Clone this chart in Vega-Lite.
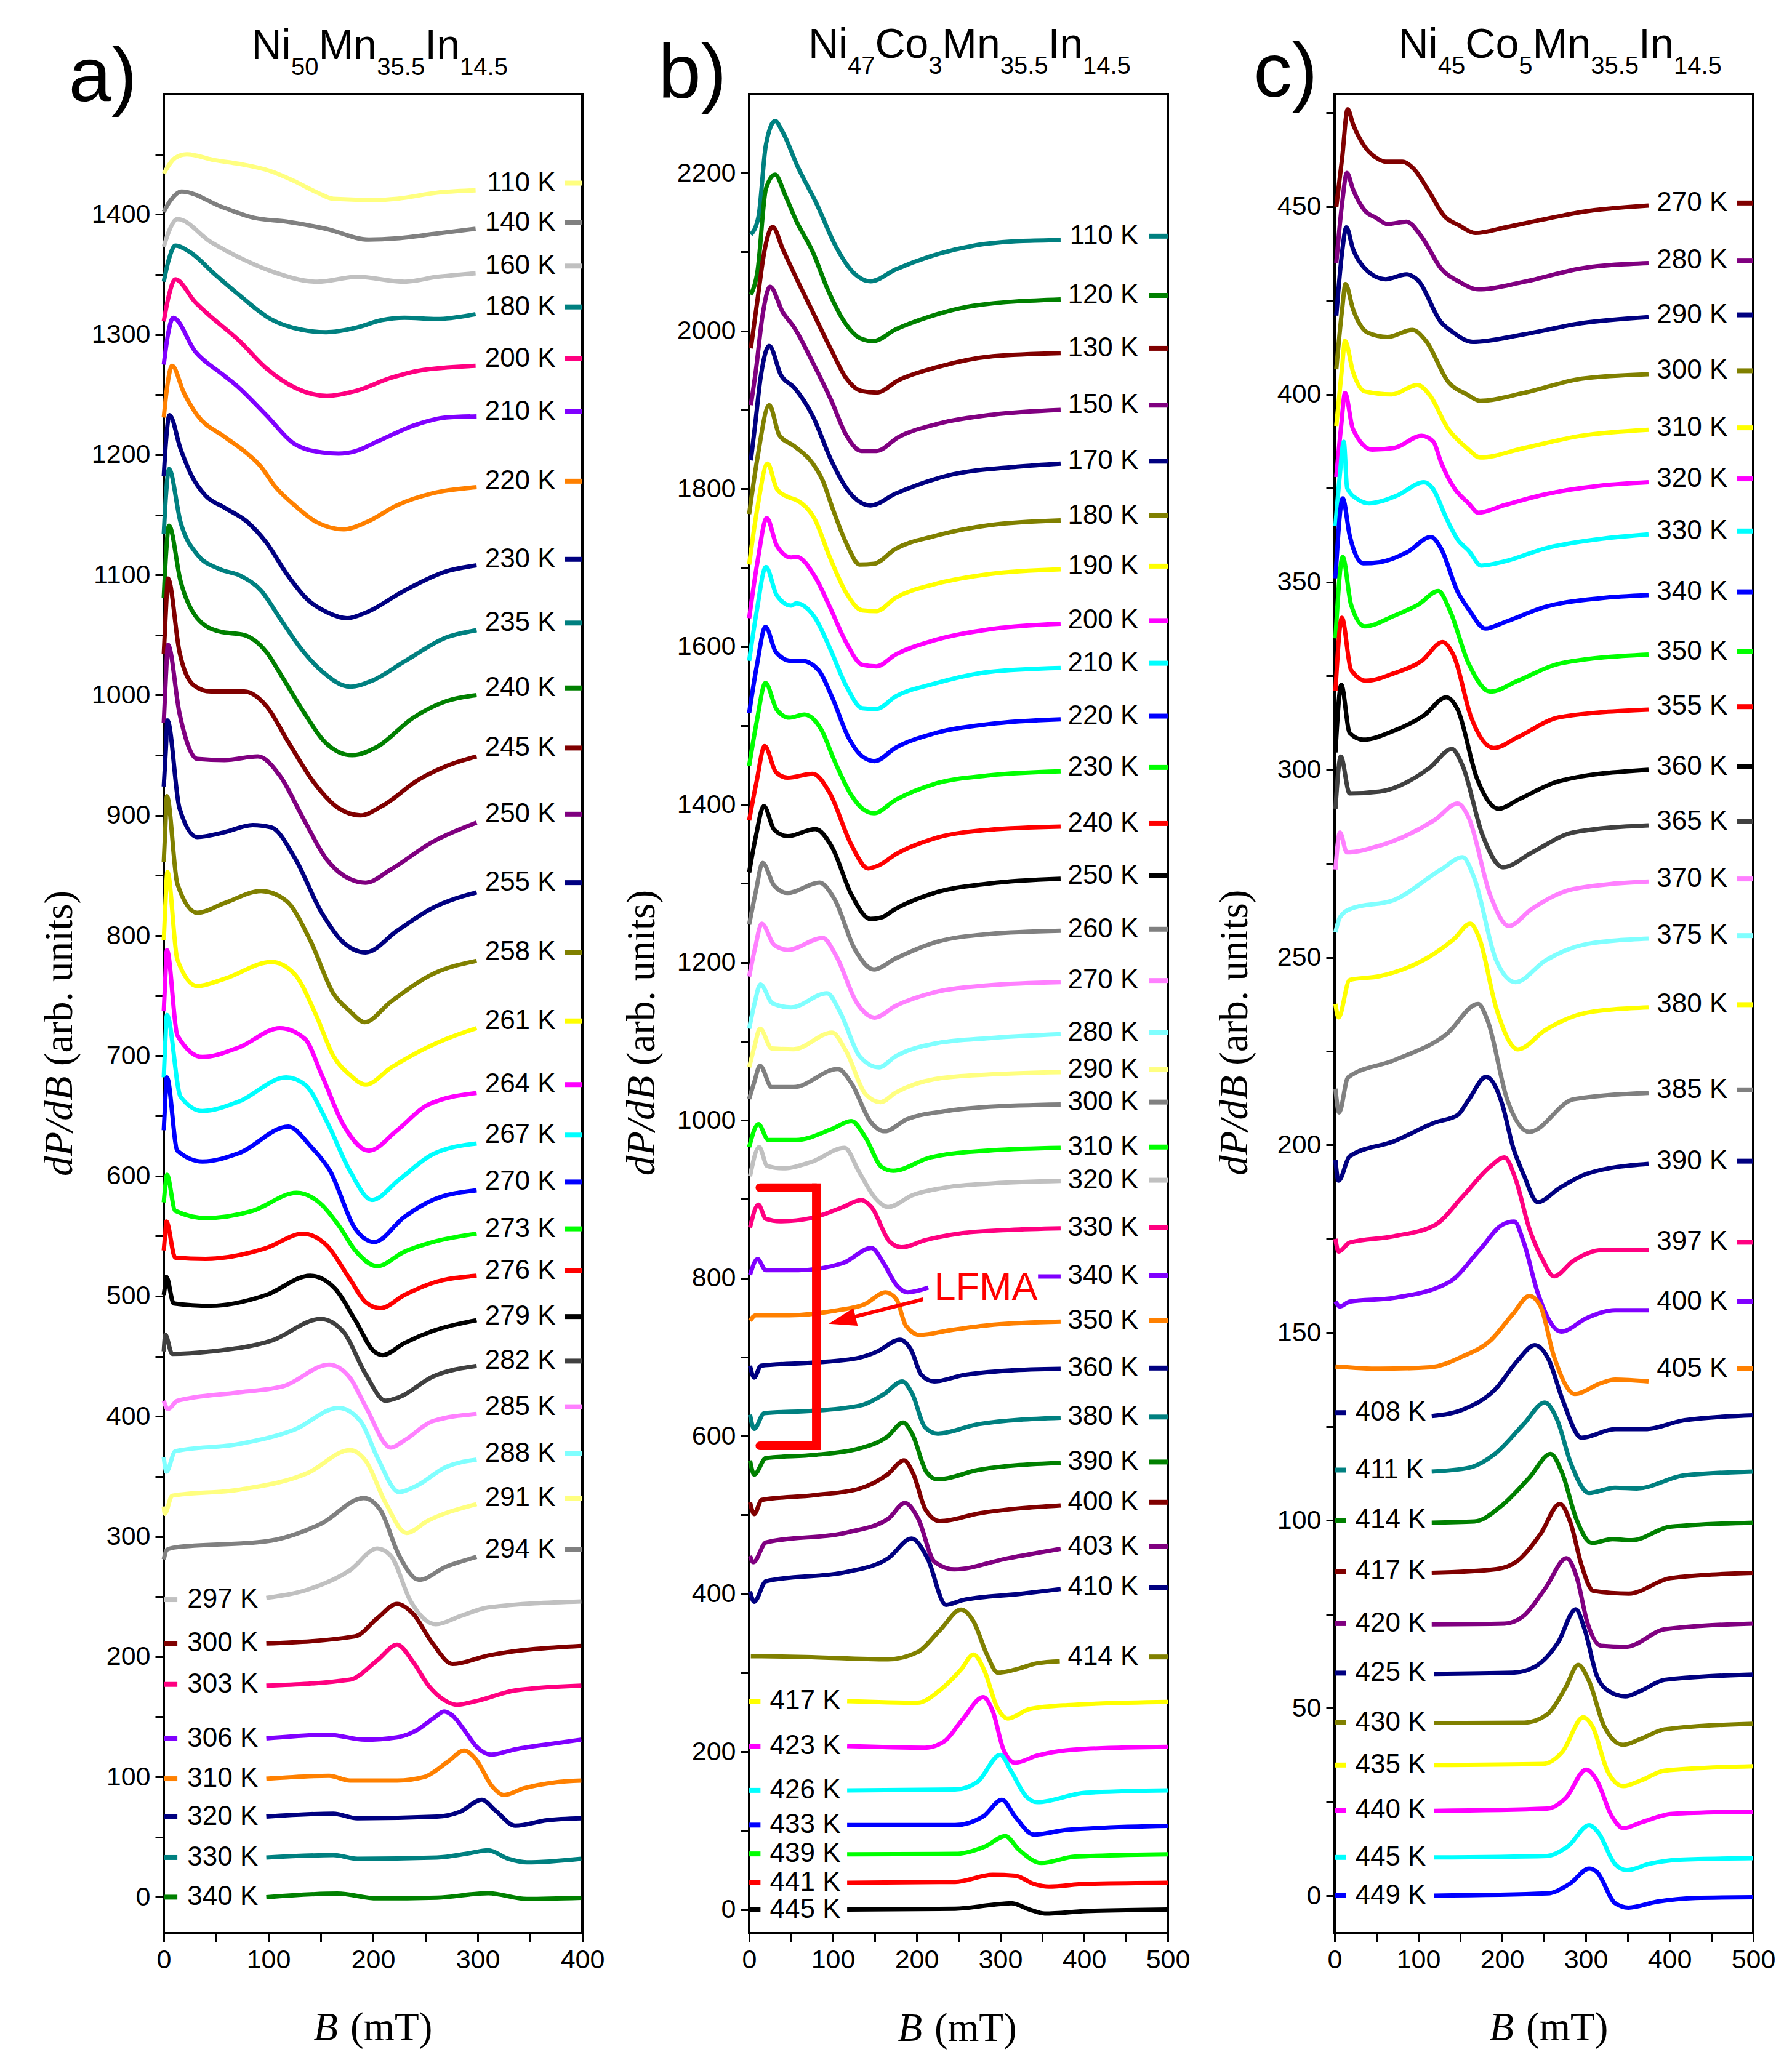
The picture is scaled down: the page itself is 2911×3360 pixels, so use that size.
{
  "$schema": "https://vega.github.io/schema/vega-lite/v6.json",
  "background": "white",
  "padding": 0,
  "spacing": 271,
  "bounds": "flush",
  "resolve": {"scale": {"x": "independent", "y": "independent", "color": "independent"}},
  "config": {
    "view": {"stroke": "black", "strokeWidth": 4},
    "axis": {"domain": false, "grid": false, "tickColor": "black", "tickWidth": 3, "tickSize": 14, "labelFont": "Liberation Sans", "labelFontSize": 43, "labelColor": "black", "labelPadding": 8, "labelOverlap": false},
    "axisX": {"labelFlush": false},
    "text": {"font": "Liberation Sans", "color": "black"}
  },
  "datasets": {
    "one": [{}],
    "a": [
      {"T":"110 K","x":0,"y":1434},{"T":"110 K","x":11,"y":1447},{"T":"110 K","x":22,"y":1450},{"T":"110 K","x":49,"y":1445},{"T":"110 K","x":72,"y":1442},{"T":"110 K","x":102,"y":1436},{"T":"110 K","x":124,"y":1428},{"T":"110 K","x":147,"y":1418},{"T":"110 K","x":162,"y":1413},{"T":"110 K","x":204,"y":1412},{"T":"110 K","x":223,"y":1413},{"T":"110 K","x":261,"y":1418},{"T":"110 K","x":298,"y":1420},
      {"T":"140 K","x":0,"y":1402},{"T":"140 K","x":6,"y":1411},{"T":"140 K","x":17,"y":1419},{"T":"140 K","x":56,"y":1406},{"T":"140 K","x":87,"y":1397},{"T":"140 K","x":117,"y":1394},{"T":"140 K","x":155,"y":1388},{"T":"140 K","x":196,"y":1379},{"T":"140 K","x":223,"y":1380},{"T":"140 K","x":261,"y":1384},{"T":"140 K","x":298,"y":1388},
      {"T":"160 K","x":0,"y":1373},{"T":"160 K","x":5,"y":1386},{"T":"160 K","x":13,"y":1396},{"T":"160 K","x":45,"y":1377},{"T":"160 K","x":75,"y":1363},{"T":"160 K","x":102,"y":1353},{"T":"160 K","x":147,"y":1344},{"T":"160 K","x":185,"y":1348},{"T":"160 K","x":230,"y":1344},{"T":"160 K","x":261,"y":1348},{"T":"160 K","x":298,"y":1351},
      {"T":"180 K","x":0,"y":1344},{"T":"180 K","x":5,"y":1363},{"T":"180 K","x":11,"y":1374},{"T":"180 K","x":26,"y":1368},{"T":"180 K","x":49,"y":1350},{"T":"180 K","x":72,"y":1333},{"T":"180 K","x":102,"y":1313},{"T":"180 K","x":132,"y":1304},{"T":"180 K","x":155,"y":1302},{"T":"180 K","x":185,"y":1306},{"T":"180 K","x":208,"y":1312},{"T":"180 K","x":230,"y":1314},{"T":"180 K","x":261,"y":1313},{"T":"180 K","x":298,"y":1317},
      {"T":"200 K","x":0,"y":1311},{"T":"200 K","x":5,"y":1333},{"T":"200 K","x":11,"y":1346},{"T":"200 K","x":30,"y":1327},{"T":"200 K","x":41,"y":1318},{"T":"200 K","x":72,"y":1295},{"T":"200 K","x":98,"y":1272},{"T":"200 K","x":125,"y":1256},{"T":"200 K","x":156,"y":1249},{"T":"200 K","x":183,"y":1253},{"T":"200 K","x":217,"y":1264},{"T":"200 K","x":244,"y":1270},{"T":"200 K","x":298,"y":1274},
      {"T":"210 K","x":0,"y":1275},{"T":"210 K","x":4,"y":1300},{"T":"210 K","x":9,"y":1314},{"T":"210 K","x":30,"y":1286},{"T":"210 K","x":56,"y":1267},{"T":"210 K","x":69,"y":1258},{"T":"210 K","x":98,"y":1233},{"T":"210 K","x":125,"y":1209},{"T":"210 K","x":151,"y":1202},{"T":"210 K","x":167,"y":1201},{"T":"210 K","x":183,"y":1203},{"T":"210 K","x":204,"y":1211},{"T":"210 K","x":241,"y":1225},{"T":"210 K","x":270,"y":1231},{"T":"210 K","x":299,"y":1232},
      {"T":"220 K","x":0,"y":1231},{"T":"220 K","x":3,"y":1255},{"T":"220 K","x":8,"y":1274},{"T":"220 K","x":19,"y":1252},{"T":"220 K","x":32,"y":1233},{"T":"220 K","x":58,"y":1215},{"T":"220 K","x":77,"y":1203},{"T":"220 K","x":93,"y":1190},{"T":"220 K","x":106,"y":1174},{"T":"220 K","x":125,"y":1158},{"T":"220 K","x":146,"y":1144},{"T":"220 K","x":172,"y":1138},{"T":"220 K","x":194,"y":1144},{"T":"220 K","x":223,"y":1158},{"T":"220 K","x":257,"y":1168},{"T":"220 K","x":299,"y":1173},
      {"T":"230 K","x":0,"y":1182},{"T":"230 K","x":2,"y":1210},{"T":"230 K","x":5.5,"y":1233},{"T":"230 K","x":16,"y":1205},{"T":"230 K","x":27,"y":1182},{"T":"230 K","x":40,"y":1166},{"T":"230 K","x":58,"y":1156},{"T":"230 K","x":80,"y":1144},{"T":"230 K","x":98,"y":1127},{"T":"230 K","x":119,"y":1099},{"T":"230 K","x":138,"y":1079},{"T":"230 K","x":156,"y":1069},{"T":"230 K","x":175,"y":1064},{"T":"230 K","x":194,"y":1069},{"T":"230 K","x":230,"y":1087},{"T":"230 K","x":270,"y":1103},{"T":"230 K","x":299,"y":1108},
      {"T":"235 K","x":0,"y":1134},{"T":"235 K","x":2,"y":1165},{"T":"235 K","x":5,"y":1188},{"T":"235 K","x":16,"y":1144},{"T":"235 K","x":32,"y":1117},{"T":"235 K","x":53,"y":1105},{"T":"235 K","x":74,"y":1099},{"T":"235 K","x":93,"y":1087},{"T":"235 K","x":111,"y":1064},{"T":"235 K","x":130,"y":1040},{"T":"235 K","x":151,"y":1020},{"T":"235 K","x":178,"y":1007},{"T":"235 K","x":199,"y":1012},{"T":"235 K","x":230,"y":1028},{"T":"235 K","x":270,"y":1048},{"T":"235 K","x":299,"y":1054},
      {"T":"240 K","x":0,"y":1081},{"T":"240 K","x":2,"y":1115},{"T":"240 K","x":5,"y":1141},{"T":"240 K","x":16,"y":1095},{"T":"240 K","x":32,"y":1064},{"T":"240 K","x":53,"y":1053},{"T":"240 K","x":77,"y":1050},{"T":"240 K","x":98,"y":1036},{"T":"240 K","x":114,"y":1014},{"T":"240 K","x":133,"y":987},{"T":"240 K","x":154,"y":961},{"T":"240 K","x":180,"y":950},{"T":"240 K","x":204,"y":957},{"T":"240 K","x":238,"y":981},{"T":"240 K","x":270,"y":995},{"T":"240 K","x":299,"y":1000},
      {"T":"245 K","x":0,"y":1034},{"T":"245 K","x":2,"y":1070},{"T":"245 K","x":4,"y":1097},{"T":"245 K","x":15,"y":1036},{"T":"245 K","x":29,"y":1008},{"T":"245 K","x":45,"y":1003},{"T":"245 K","x":77,"y":1003},{"T":"245 K","x":98,"y":991},{"T":"245 K","x":119,"y":961},{"T":"245 K","x":143,"y":928},{"T":"245 K","x":167,"y":906},{"T":"245 K","x":188,"y":900},{"T":"245 K","x":209,"y":908},{"T":"245 K","x":244,"y":930},{"T":"245 K","x":270,"y":941},{"T":"245 K","x":299,"y":949},
      {"T":"250 K","x":0,"y":977},{"T":"250 K","x":2,"y":1015},{"T":"250 K","x":4,"y":1042},{"T":"250 K","x":15,"y":985},{"T":"250 K","x":32,"y":947},{"T":"250 K","x":58,"y":946},{"T":"250 K","x":90,"y":949},{"T":"250 K","x":111,"y":933},{"T":"250 K","x":133,"y":898},{"T":"250 K","x":156,"y":863},{"T":"250 K","x":178,"y":847},{"T":"250 K","x":193,"y":844},{"T":"250 K","x":217,"y":855},{"T":"250 K","x":257,"y":878},{"T":"250 K","x":299,"y":894},
      {"T":"255 K","x":0,"y":924},{"T":"255 K","x":2,"y":955},{"T":"255 K","x":3.5,"y":979},{"T":"255 K","x":15,"y":906},{"T":"255 K","x":32,"y":882},{"T":"255 K","x":58,"y":886},{"T":"255 K","x":85,"y":892},{"T":"255 K","x":103,"y":890},{"T":"255 K","x":125,"y":865},{"T":"255 K","x":151,"y":819},{"T":"255 K","x":172,"y":794},{"T":"255 K","x":193,"y":786},{"T":"255 K","x":223,"y":804},{"T":"255 K","x":257,"y":823},{"T":"255 K","x":299,"y":836},
      {"T":"258 K","x":0,"y":861},{"T":"258 K","x":1.5,"y":890},{"T":"258 K","x":3,"y":916},{"T":"258 K","x":13,"y":843},{"T":"258 K","x":32,"y":819},{"T":"258 K","x":58,"y":827},{"T":"258 K","x":93,"y":837},{"T":"258 K","x":117,"y":829},{"T":"258 K","x":140,"y":796},{"T":"258 K","x":162,"y":752},{"T":"258 K","x":178,"y":737},{"T":"258 K","x":192,"y":728},{"T":"258 K","x":217,"y":745},{"T":"258 K","x":257,"y":768},{"T":"258 K","x":299,"y":779},
      {"T":"261 K","x":0,"y":796},{"T":"261 K","x":1.5,"y":825},{"T":"261 K","x":3.5,"y":853},{"T":"261 K","x":13,"y":780},{"T":"261 K","x":32,"y":758},{"T":"261 K","x":58,"y":764},{"T":"261 K","x":103,"y":778},{"T":"261 K","x":125,"y":768},{"T":"261 K","x":146,"y":733},{"T":"261 K","x":162,"y":700},{"T":"261 K","x":178,"y":684},{"T":"261 K","x":193,"y":676},{"T":"261 K","x":217,"y":690},{"T":"261 K","x":252,"y":707},{"T":"261 K","x":270,"y":714},{"T":"261 K","x":299,"y":723},
      {"T":"264 K","x":0,"y":737},{"T":"264 K","x":1.5,"y":765},{"T":"264 K","x":3,"y":788},{"T":"264 K","x":13,"y":717},{"T":"264 K","x":37,"y":699},{"T":"264 K","x":72,"y":707},{"T":"264 K","x":111,"y":723},{"T":"264 K","x":135,"y":714},{"T":"264 K","x":151,"y":684},{"T":"264 K","x":172,"y":642},{"T":"264 K","x":196,"y":621},{"T":"264 K","x":223,"y":638},{"T":"264 K","x":252,"y":659},{"T":"264 K","x":299,"y":669},
      {"T":"267 K","x":0,"y":682},{"T":"267 K","x":1.5,"y":712},{"T":"267 K","x":3,"y":734},{"T":"267 K","x":16,"y":666},{"T":"267 K","x":37,"y":654},{"T":"267 K","x":72,"y":662},{"T":"267 K","x":117,"y":682},{"T":"267 K","x":135,"y":676},{"T":"267 K","x":156,"y":645},{"T":"267 K","x":178,"y":604},{"T":"267 K","x":199,"y":580},{"T":"267 K","x":225,"y":597},{"T":"267 K","x":257,"y":618},{"T":"267 K","x":299,"y":627},
      {"T":"270 K","x":0,"y":638},{"T":"270 K","x":1.5,"y":664},{"T":"270 K","x":3,"y":682},{"T":"270 K","x":13,"y":621},{"T":"270 K","x":37,"y":612},{"T":"270 K","x":72,"y":619},{"T":"270 K","x":119,"y":641},{"T":"270 K","x":140,"y":625},{"T":"270 K","x":159,"y":604},{"T":"270 K","x":183,"y":556},{"T":"270 K","x":201,"y":545},{"T":"270 K","x":230,"y":566},{"T":"270 K","x":257,"y":580},{"T":"270 K","x":299,"y":588},
      {"T":"273 K","x":0,"y":578},{"T":"273 K","x":1.5,"y":592},{"T":"273 K","x":3,"y":601},{"T":"273 K","x":11,"y":571},{"T":"273 K","x":40,"y":565},{"T":"273 K","x":85,"y":571},{"T":"273 K","x":127,"y":586},{"T":"273 K","x":151,"y":576},{"T":"273 K","x":167,"y":559},{"T":"273 K","x":183,"y":538},{"T":"273 K","x":204,"y":525},{"T":"273 K","x":230,"y":537},{"T":"273 K","x":257,"y":545},{"T":"273 K","x":299,"y":552},
      {"T":"276 K","x":0,"y":538},{"T":"276 K","x":1.5,"y":553},{"T":"276 K","x":2.5,"y":562},{"T":"276 K","x":11,"y":532},{"T":"276 K","x":40,"y":531},{"T":"276 K","x":98,"y":540},{"T":"276 K","x":133,"y":552},{"T":"276 K","x":156,"y":542},{"T":"276 K","x":178,"y":514},{"T":"276 K","x":193,"y":495},{"T":"276 K","x":207,"y":490},{"T":"276 K","x":230,"y":501},{"T":"276 K","x":257,"y":511},{"T":"276 K","x":299,"y":517},
      {"T":"279 K","x":0,"y":501},{"T":"279 K","x":1.5,"y":510},{"T":"279 K","x":2.5,"y":516},{"T":"279 K","x":9.5,"y":494},{"T":"279 K","x":45,"y":492},{"T":"279 K","x":98,"y":501},{"T":"279 K","x":140,"y":517},{"T":"279 K","x":164,"y":506},{"T":"279 K","x":183,"y":480},{"T":"279 K","x":201,"y":454},{"T":"279 K","x":209,"y":451},{"T":"279 K","x":230,"y":461},{"T":"279 K","x":257,"y":471},{"T":"279 K","x":299,"y":480},
      {"T":"282 K","x":0,"y":454},{"T":"282 K","x":1.5,"y":468},{"T":"282 K","x":8,"y":452},{"T":"282 K","x":45,"y":454},{"T":"282 K","x":103,"y":463},{"T":"282 K","x":150,"y":481},{"T":"282 K","x":172,"y":470},{"T":"282 K","x":193,"y":435},{"T":"282 K","x":212,"y":413},{"T":"282 K","x":225,"y":416},{"T":"282 K","x":257,"y":433},{"T":"282 K","x":299,"y":442},
      {"T":"285 K","x":0,"y":413},{"T":"285 K","x":4,"y":406},{"T":"285 K","x":13,"y":413},{"T":"285 K","x":72,"y":420},{"T":"285 K","x":114,"y":425},{"T":"285 K","x":158,"y":443},{"T":"285 K","x":178,"y":432},{"T":"285 K","x":193,"y":408},{"T":"285 K","x":217,"y":374},{"T":"285 K","x":230,"y":380},{"T":"285 K","x":257,"y":396},{"T":"285 K","x":299,"y":402},
      {"T":"288 K","x":0,"y":366},{"T":"288 K","x":2.5,"y":354},{"T":"288 K","x":11,"y":371},{"T":"288 K","x":72,"y":377},{"T":"288 K","x":125,"y":389},{"T":"288 K","x":167,"y":407},{"T":"288 K","x":188,"y":396},{"T":"288 K","x":204,"y":366},{"T":"288 K","x":225,"y":337},{"T":"288 K","x":241,"y":342},{"T":"288 K","x":270,"y":358},{"T":"288 K","x":299,"y":364},
      {"T":"291 K","x":0,"y":325},{"T":"291 K","x":1,"y":319},{"T":"291 K","x":8,"y":334},{"T":"291 K","x":72,"y":339},{"T":"291 K","x":138,"y":353},{"T":"291 K","x":178,"y":372},{"T":"291 K","x":193,"y":363},{"T":"291 K","x":212,"y":328},{"T":"291 K","x":232,"y":303},{"T":"291 K","x":252,"y":313},{"T":"291 K","x":299,"y":327},
      {"T":"294 K","x":0,"y":281},{"T":"294 K","x":3,"y":289},{"T":"294 K","x":11,"y":291},{"T":"294 K","x":98,"y":296},{"T":"294 K","x":151,"y":311},{"T":"294 K","x":191,"y":332},{"T":"294 K","x":207,"y":322},{"T":"294 K","x":225,"y":284},{"T":"294 K","x":244,"y":264},{"T":"294 K","x":270,"y":275},{"T":"294 K","x":299,"y":283},
      {"T":"297 K","x":98,"y":249},{"T":"297 K","x":138,"y":256},{"T":"297 K","x":178,"y":272},{"T":"297 K","x":204,"y":290},{"T":"297 K","x":217,"y":284},{"T":"297 K","x":236,"y":246},{"T":"297 K","x":260,"y":227},{"T":"297 K","x":284,"y":234},{"T":"297 K","x":310,"y":241},{"T":"297 K","x":399,"y":246},
      {"T":"300 K","x":98,"y":211},{"T":"300 K","x":183,"y":217},{"T":"300 K","x":204,"y":232},{"T":"300 K","x":223,"y":244},{"T":"300 K","x":238,"y":236},{"T":"300 K","x":257,"y":211},{"T":"300 K","x":276,"y":194},{"T":"300 K","x":310,"y":201},{"T":"300 K","x":399,"y":209},
      {"T":"303 K","x":98,"y":176},{"T":"303 K","x":178,"y":181},{"T":"303 K","x":204,"y":197},{"T":"303 K","x":223,"y":210},{"T":"303 K","x":238,"y":196},{"T":"303 K","x":253,"y":176},{"T":"303 K","x":268,"y":164},{"T":"303 K","x":280,"y":160},{"T":"303 K","x":298,"y":163},{"T":"303 K","x":336,"y":172},{"T":"303 K","x":399,"y":176},
      {"T":"306 K","x":98,"y":132},{"T":"306 K","x":158,"y":135},{"T":"306 K","x":192,"y":131},{"T":"306 K","x":223,"y":133},{"T":"306 K","x":242,"y":139},{"T":"306 K","x":258,"y":149},{"T":"306 K","x":268,"y":154.5},{"T":"306 K","x":276,"y":151},{"T":"306 K","x":288,"y":138},{"T":"306 K","x":298,"y":126},{"T":"306 K","x":313,"y":118.6},{"T":"306 K","x":336,"y":123},{"T":"306 K","x":374,"y":128},{"T":"306 K","x":399,"y":131},
      {"T":"310 K","x":98,"y":98.5},{"T":"310 K","x":158,"y":101},{"T":"310 K","x":178,"y":97},{"T":"310 K","x":223,"y":97},{"T":"310 K","x":249,"y":100},{"T":"310 K","x":272,"y":113},{"T":"310 K","x":287,"y":122},{"T":"310 K","x":298,"y":115},{"T":"310 K","x":314,"y":92},{"T":"310 K","x":325,"y":85},{"T":"310 K","x":344,"y":90.5},{"T":"310 K","x":374,"y":95.5},{"T":"310 K","x":399,"y":97},
      {"T":"320 K","x":98,"y":67},{"T":"320 K","x":162,"y":69.5},{"T":"320 K","x":185,"y":65.6},{"T":"320 K","x":261,"y":67},{"T":"320 K","x":283,"y":71},{"T":"320 K","x":304,"y":81},{"T":"320 K","x":317,"y":72},{"T":"320 K","x":336,"y":59.5},{"T":"320 K","x":366,"y":64},{"T":"320 K","x":399,"y":65.6},
      {"T":"330 K","x":98,"y":33},{"T":"330 K","x":162,"y":35},{"T":"330 K","x":185,"y":32},{"T":"330 K","x":261,"y":33},{"T":"330 K","x":291,"y":36.4},{"T":"330 K","x":310,"y":39},{"T":"330 K","x":329,"y":32},{"T":"330 K","x":347,"y":29},{"T":"330 K","x":399,"y":32},
      {"T":"340 K","x":98,"y":0},{"T":"340 K","x":166,"y":3},{"T":"340 K","x":204,"y":-1},{"T":"340 K","x":261,"y":-0.4},{"T":"340 K","x":310,"y":3.3},{"T":"340 K","x":347,"y":-1.5},{"T":"340 K","x":399,"y":-0.6}
    ],
    "la": [
      {"T":"110 K","y":1426,"side":"r"},{"T":"140 K","y":1393,"side":"r"},{"T":"160 K","y":1357,"side":"r"},{"T":"180 K","y":1323,"side":"r"},{"T":"200 K","y":1280,"side":"r"},{"T":"210 K","y":1236,"side":"r"},{"T":"220 K","y":1178,"side":"r"},{"T":"230 K","y":1113,"side":"r"},{"T":"235 K","y":1060,"side":"r"},{"T":"240 K","y":1006,"side":"r"},{"T":"245 K","y":956,"side":"r"},{"T":"250 K","y":901,"side":"r"},{"T":"255 K","y":844,"side":"r"},{"T":"258 K","y":786,"side":"r"},{"T":"261 K","y":729,"side":"r"},{"T":"264 K","y":676,"side":"r"},{"T":"267 K","y":634,"side":"r"},{"T":"270 K","y":595,"side":"r"},{"T":"273 K","y":556,"side":"r"},{"T":"276 K","y":521,"side":"r"},{"T":"279 K","y":483,"side":"r"},{"T":"282 K","y":446,"side":"r"},{"T":"285 K","y":408,"side":"r"},{"T":"288 K","y":369,"side":"r"},{"T":"291 K","y":332,"side":"r"},{"T":"294 K","y":289,"side":"r"},
      {"T":"297 K","y":247.5,"side":"l"},{"T":"300 K","y":211,"side":"l"},{"T":"303 K","y":177,"side":"l"},{"T":"306 K","y":132,"side":"l"},{"T":"310 K","y":98.5,"side":"l"},{"T":"320 K","y":67,"side":"l"},{"T":"330 K","y":33,"side":"l"},{"T":"340 K","y":0,"side":"l"}
    ],
    "b": [
      {"T":"110 K","x":2,"y":2122},{"T":"110 K","x":11,"y":2144},{"T":"110 K","x":20,"y":2236},{"T":"110 K","x":31,"y":2266},{"T":"110 K","x":40,"y":2252},{"T":"110 K","x":58,"y":2208},{"T":"110 K","x":81,"y":2160},{"T":"110 K","x":103,"y":2108},{"T":"110 K","x":121,"y":2078},{"T":"110 K","x":145,"y":2063},{"T":"110 K","x":175,"y":2078},{"T":"110 K","x":215,"y":2094},{"T":"110 K","x":268,"y":2108},{"T":"110 K","x":327,"y":2114},{"T":"110 K","x":372,"y":2115},
      {"T":"120 K","x":2,"y":2046},{"T":"120 K","x":10,"y":2076},{"T":"120 K","x":20,"y":2180},{"T":"120 K","x":31,"y":2198},{"T":"120 K","x":43,"y":2172},{"T":"120 K","x":56,"y":2140},{"T":"120 K","x":76,"y":2100},{"T":"120 K","x":94,"y":2052},{"T":"120 K","x":116,"y":2008},{"T":"120 K","x":134,"y":1990},{"T":"120 K","x":148,"y":1987},{"T":"120 K","x":175,"y":2002},{"T":"120 K","x":215,"y":2018},{"T":"120 K","x":268,"y":2032},{"T":"120 K","x":372,"y":2040},
      {"T":"130 K","x":2,"y":1978},{"T":"130 K","x":10,"y":2040},{"T":"130 K","x":18,"y":2100},{"T":"130 K","x":28,"y":2132},{"T":"130 K","x":40,"y":2104},{"T":"130 K","x":54,"y":2072},{"T":"130 K","x":76,"y":2024},{"T":"130 K","x":98,"y":1976},{"T":"130 K","x":116,"y":1940},{"T":"130 K","x":134,"y":1924},{"T":"130 K","x":152,"y":1922},{"T":"130 K","x":179,"y":1938},{"T":"130 K","x":224,"y":1954},{"T":"130 K","x":291,"y":1968},{"T":"130 K","x":372,"y":1972},
      {"T":"150 K","x":2,"y":1906},{"T":"150 K","x":8,"y":1950},{"T":"150 K","x":16,"y":2020},{"T":"150 K","x":25,"y":2056},{"T":"150 K","x":40,"y":2024},{"T":"150 K","x":54,"y":2004},{"T":"150 K","x":76,"y":1960},{"T":"150 K","x":98,"y":1912},{"T":"150 K","x":116,"y":1868},{"T":"150 K","x":134,"y":1848},{"T":"150 K","x":152,"y":1848},{"T":"150 K","x":179,"y":1866},{"T":"150 K","x":224,"y":1882},{"T":"150 K","x":291,"y":1894},{"T":"150 K","x":372,"y":1900},
      {"T":"170 K","x":2,"y":1836},{"T":"170 K","x":7,"y":1880},{"T":"170 K","x":13.5,"y":1940},{"T":"170 K","x":24,"y":1981},{"T":"170 K","x":38,"y":1944},{"T":"170 K","x":54,"y":1928},{"T":"170 K","x":76,"y":1892},{"T":"170 K","x":98,"y":1836},{"T":"170 K","x":118,"y":1798},{"T":"170 K","x":145,"y":1779},{"T":"170 K","x":175,"y":1794},{"T":"170 K","x":238,"y":1817},{"T":"170 K","x":320,"y":1828},{"T":"170 K","x":372,"y":1832},
      {"T":"180 K","x":0,"y":1768},{"T":"180 K","x":10,"y":1840},{"T":"180 K","x":24,"y":1906},{"T":"180 K","x":36,"y":1868},{"T":"180 K","x":54,"y":1854},{"T":"180 K","x":76,"y":1832},{"T":"180 K","x":88,"y":1810},{"T":"180 K","x":99,"y":1777},{"T":"180 K","x":116,"y":1731},{"T":"180 K","x":132,"y":1704},{"T":"180 K","x":149,"y":1705},{"T":"180 K","x":175,"y":1724},{"T":"180 K","x":221,"y":1740},{"T":"180 K","x":287,"y":1754},{"T":"180 K","x":372,"y":1760},
      {"T":"190 K","x":0,"y":1704},{"T":"190 K","x":10,"y":1777},{"T":"190 K","x":22,"y":1832},{"T":"190 K","x":33,"y":1800},{"T":"190 K","x":48,"y":1789},{"T":"190 K","x":56,"y":1786},{"T":"190 K","x":79,"y":1760},{"T":"190 K","x":96,"y":1714},{"T":"190 K","x":116,"y":1668},{"T":"190 K","x":135,"y":1646},{"T":"190 K","x":152,"y":1645},{"T":"190 K","x":175,"y":1662},{"T":"190 K","x":221,"y":1679},{"T":"190 K","x":287,"y":1692},{"T":"190 K","x":372,"y":1698},
      {"T":"200 K","x":0,"y":1636},{"T":"200 K","x":10,"y":1708},{"T":"200 K","x":21,"y":1763},{"T":"200 K","x":33,"y":1728},{"T":"200 K","x":50,"y":1713},{"T":"200 K","x":56,"y":1714},{"T":"200 K","x":79,"y":1688},{"T":"200 K","x":96,"y":1651},{"T":"200 K","x":116,"y":1605},{"T":"200 K","x":135,"y":1577},{"T":"200 K","x":152,"y":1575},{"T":"200 K","x":175,"y":1590},{"T":"200 K","x":221,"y":1608},{"T":"200 K","x":287,"y":1622},{"T":"200 K","x":372,"y":1629},
      {"T":"210 K","x":0,"y":1582},{"T":"210 K","x":9,"y":1645},{"T":"210 K","x":20,"y":1701},{"T":"210 K","x":33,"y":1665},{"T":"210 K","x":50,"y":1652},{"T":"210 K","x":56,"y":1655},{"T":"210 K","x":79,"y":1636},{"T":"210 K","x":96,"y":1599},{"T":"210 K","x":116,"y":1550},{"T":"210 K","x":135,"y":1522},{"T":"210 K","x":152,"y":1521},{"T":"210 K","x":175,"y":1537},{"T":"210 K","x":221,"y":1553},{"T":"210 K","x":287,"y":1568},{"T":"210 K","x":372,"y":1573},
      {"T":"220 K","x":0,"y":1516},{"T":"220 K","x":9,"y":1575},{"T":"220 K","x":19.5,"y":1625},{"T":"220 K","x":32,"y":1593},{"T":"220 K","x":50,"y":1582},{"T":"220 K","x":63,"y":1582},{"T":"220 K","x":83,"y":1570},{"T":"220 K","x":99,"y":1536},{"T":"220 K","x":119,"y":1484},{"T":"220 K","x":135,"y":1461},{"T":"220 K","x":150,"y":1455},{"T":"220 K","x":175,"y":1472},{"T":"220 K","x":221,"y":1490},{"T":"220 K","x":287,"y":1502},{"T":"220 K","x":372,"y":1508},
      {"T":"230 K","x":0,"y":1449},{"T":"230 K","x":9,"y":1505},{"T":"230 K","x":19.5,"y":1554},{"T":"230 K","x":33,"y":1520},{"T":"230 K","x":48,"y":1510},{"T":"230 K","x":66,"y":1514},{"T":"230 K","x":86,"y":1495},{"T":"230 K","x":102,"y":1455},{"T":"230 K","x":122,"y":1412},{"T":"230 K","x":135,"y":1395},{"T":"230 K","x":149,"y":1389},{"T":"230 K","x":175,"y":1406},{"T":"230 K","x":221,"y":1426},{"T":"230 K","x":287,"y":1437},{"T":"230 K","x":372,"y":1442},
      {"T":"240 K","x":0,"y":1380},{"T":"240 K","x":9,"y":1430},{"T":"240 K","x":18.5,"y":1474},{"T":"240 K","x":32,"y":1441},{"T":"240 K","x":46,"y":1434},{"T":"240 K","x":76,"y":1439},{"T":"240 K","x":96,"y":1415},{"T":"240 K","x":122,"y":1349},{"T":"240 K","x":142,"y":1319},{"T":"240 K","x":155,"y":1323},{"T":"240 K","x":175,"y":1337},{"T":"240 K","x":221,"y":1357},{"T":"240 K","x":287,"y":1368},{"T":"240 K","x":372,"y":1372},
      {"T":"250 K","x":0,"y":1314},{"T":"250 K","x":8,"y":1360},{"T":"250 K","x":17.5,"y":1398},{"T":"250 K","x":30,"y":1368},{"T":"250 K","x":46,"y":1360},{"T":"250 K","x":79,"y":1369},{"T":"250 K","x":99,"y":1346},{"T":"250 K","x":122,"y":1286},{"T":"250 K","x":145,"y":1255},{"T":"250 K","x":158,"y":1257},{"T":"250 K","x":175,"y":1268},{"T":"250 K","x":221,"y":1288},{"T":"250 K","x":287,"y":1300},{"T":"250 K","x":372,"y":1306},
      {"T":"260 K","x":0,"y":1248},{"T":"260 K","x":8,"y":1290},{"T":"260 K","x":16,"y":1326},{"T":"260 K","x":30,"y":1297},{"T":"260 K","x":46,"y":1288},{"T":"260 K","x":84,"y":1301},{"T":"260 K","x":102,"y":1280},{"T":"260 K","x":126,"y":1217},{"T":"260 K","x":149,"y":1191},{"T":"260 K","x":175,"y":1205},{"T":"260 K","x":221,"y":1225},{"T":"260 K","x":287,"y":1236},{"T":"260 K","x":372,"y":1240},
      {"T":"270 K","x":0,"y":1182},{"T":"270 K","x":7,"y":1218},{"T":"270 K","x":15,"y":1249},{"T":"270 K","x":30,"y":1222},{"T":"270 K","x":46,"y":1216},{"T":"270 K","x":88,"y":1231},{"T":"270 K","x":104,"y":1208},{"T":"270 K","x":129,"y":1148},{"T":"270 K","x":150,"y":1130},{"T":"270 K","x":175,"y":1145},{"T":"270 K","x":221,"y":1162},{"T":"270 K","x":287,"y":1171},{"T":"270 K","x":372,"y":1175},
      {"T":"280 K","x":0,"y":1116},{"T":"280 K","x":6,"y":1146},{"T":"280 K","x":13.5,"y":1172},{"T":"280 K","x":28,"y":1148},{"T":"280 K","x":50,"y":1143},{"T":"280 K","x":93,"y":1161},{"T":"280 K","x":109,"y":1136},{"T":"280 K","x":132,"y":1081},{"T":"280 K","x":155,"y":1067},{"T":"280 K","x":175,"y":1081},{"T":"280 K","x":221,"y":1097},{"T":"280 K","x":287,"y":1104},{"T":"280 K","x":372,"y":1109},
      {"T":"290 K","x":0,"y":1067},{"T":"290 K","x":6,"y":1092},{"T":"290 K","x":13,"y":1116},{"T":"290 K","x":27,"y":1091},{"T":"290 K","x":53,"y":1090},{"T":"290 K","x":99,"y":1111},{"T":"290 K","x":116,"y":1087},{"T":"290 K","x":139,"y":1033},{"T":"290 K","x":157,"y":1023},{"T":"290 K","x":175,"y":1035},{"T":"290 K","x":221,"y":1052},{"T":"290 K","x":287,"y":1058},{"T":"290 K","x":372,"y":1061},
      {"T":"300 K","x":0,"y":1027},{"T":"300 K","x":6,"y":1048},{"T":"300 K","x":13,"y":1069},{"T":"300 K","x":27,"y":1042},{"T":"300 K","x":53,"y":1042},{"T":"300 K","x":106,"y":1065},{"T":"300 K","x":122,"y":1047},{"T":"300 K","x":145,"y":998},{"T":"300 K","x":162,"y":986},{"T":"300 K","x":188,"y":1001},{"T":"300 K","x":238,"y":1012},{"T":"300 K","x":287,"y":1017},{"T":"300 K","x":372,"y":1020},
      {"T":"310 K","x":0,"y":966},{"T":"310 K","x":11,"y":995},{"T":"310 K","x":23,"y":975},{"T":"310 K","x":56,"y":975},{"T":"310 K","x":99,"y":989},{"T":"310 K","x":122,"y":999},{"T":"310 K","x":139,"y":978},{"T":"310 K","x":158,"y":941},{"T":"310 K","x":172,"y":936},{"T":"310 K","x":217,"y":953},{"T":"310 K","x":292,"y":962},{"T":"310 K","x":372,"y":965},
      {"T":"320 K","x":1,"y":929},{"T":"320 K","x":12,"y":966},{"T":"320 K","x":21.5,"y":942},{"T":"320 K","x":40,"y":939},{"T":"320 K","x":74,"y":947},{"T":"320 K","x":114,"y":965},{"T":"320 K","x":131,"y":935},{"T":"320 K","x":150,"y":902},{"T":"320 K","x":166,"y":890},{"T":"320 K","x":195,"y":905},{"T":"320 K","x":236,"y":915},{"T":"320 K","x":292,"y":920},{"T":"320 K","x":372,"y":923},
      {"T":"330 K","x":1,"y":864},{"T":"330 K","x":11,"y":893},{"T":"330 K","x":20,"y":875},{"T":"330 K","x":37,"y":872},{"T":"330 K","x":74,"y":876},{"T":"330 K","x":112,"y":890},{"T":"330 K","x":134,"y":899},{"T":"330 K","x":146,"y":890},{"T":"330 K","x":168,"y":846},{"T":"330 K","x":182,"y":839},{"T":"330 K","x":210,"y":848},{"T":"330 K","x":255,"y":857},{"T":"330 K","x":311,"y":861},{"T":"330 K","x":372,"y":863},
      {"T":"340 K","x":1,"y":804},{"T":"340 K","x":10,"y":824},{"T":"340 K","x":20,"y":810},{"T":"340 K","x":59,"y":810},{"T":"340 K","x":112,"y":819},{"T":"340 K","x":146,"y":838},{"T":"340 K","x":161,"y":818},{"T":"340 K","x":176,"y":791},{"T":"340 K","x":189,"y":782},{"T":"340 K","x":214,"y":788},{"T":"340 K","x":345,"y":802,"g":2},{"T":"340 K","x":372,"y":802,"g":2},
      {"T":"350 K","x":1,"y":746},{"T":"350 K","x":8,"y":753},{"T":"350 K","x":48,"y":753},{"T":"350 K","x":104,"y":759},{"T":"350 K","x":138,"y":767},{"T":"350 K","x":163,"y":782},{"T":"350 K","x":176,"y":773},{"T":"350 K","x":187,"y":740},{"T":"350 K","x":204,"y":728},{"T":"350 K","x":240,"y":734},{"T":"350 K","x":292,"y":741},{"T":"350 K","x":372,"y":745},
      {"T":"360 K","x":1,"y":689},{"T":"360 K","x":6,"y":674},{"T":"360 K","x":14,"y":689},{"T":"360 K","x":78,"y":693},{"T":"360 K","x":131,"y":699},{"T":"360 K","x":153,"y":707},{"T":"360 K","x":180,"y":722},{"T":"360 K","x":193,"y":710},{"T":"360 K","x":206,"y":677},{"T":"360 K","x":221,"y":669},{"T":"360 K","x":255,"y":677},{"T":"360 K","x":311,"y":683},{"T":"360 K","x":372,"y":685},
      {"T":"380 K","x":1,"y":627},{"T":"380 K","x":6,"y":609},{"T":"380 K","x":18,"y":629},{"T":"380 K","x":78,"y":632},{"T":"380 K","x":134,"y":639},{"T":"380 K","x":161,"y":653},{"T":"380 K","x":183,"y":669},{"T":"380 K","x":195,"y":653},{"T":"380 K","x":210,"y":611},{"T":"380 K","x":225,"y":603},{"T":"380 K","x":274,"y":615},{"T":"380 K","x":372,"y":623},
      {"T":"390 K","x":1,"y":569},{"T":"390 K","x":6,"y":551},{"T":"390 K","x":20,"y":572},{"T":"390 K","x":78,"y":576},{"T":"390 K","x":131,"y":584},{"T":"390 K","x":165,"y":599},{"T":"390 K","x":184,"y":617},{"T":"390 K","x":195,"y":602},{"T":"390 K","x":212,"y":554},{"T":"390 K","x":225,"y":545},{"T":"390 K","x":274,"y":557},{"T":"390 K","x":372,"y":566},
      {"T":"400 K","x":1,"y":516},{"T":"400 K","x":6,"y":501},{"T":"400 K","x":15,"y":519},{"T":"400 K","x":78,"y":525},{"T":"400 K","x":131,"y":533},{"T":"400 K","x":165,"y":551},{"T":"400 K","x":185,"y":569},{"T":"400 K","x":196,"y":552},{"T":"400 K","x":211,"y":506},{"T":"400 K","x":228,"y":492},{"T":"400 K","x":275,"y":502},{"T":"400 K","x":372,"y":512},
      {"T":"403 K","x":1,"y":448},{"T":"403 K","x":5,"y":440},{"T":"403 K","x":20,"y":465},{"T":"403 K","x":118,"y":478},{"T":"403 K","x":166,"y":495},{"T":"403 K","x":186,"y":515},{"T":"403 K","x":202,"y":495},{"T":"403 K","x":221,"y":441},{"T":"403 K","x":245,"y":431},{"T":"403 K","x":309,"y":445},{"T":"403 K","x":372,"y":457},
      {"T":"410 K","x":1,"y":403},{"T":"410 K","x":6,"y":390},{"T":"410 K","x":20,"y":416},{"T":"410 K","x":118,"y":428},{"T":"410 K","x":166,"y":445},{"T":"410 K","x":194,"y":470},{"T":"410 K","x":213,"y":445},{"T":"410 K","x":235,"y":386},{"T":"410 K","x":255,"y":392},{"T":"410 K","x":325,"y":400},{"T":"410 K","x":372,"y":406},
      {"T":"414 K","x":2,"y":321},{"T":"414 K","x":67,"y":320},{"T":"414 K","x":166,"y":317},{"T":"414 K","x":201,"y":326},{"T":"414 K","x":228,"y":354},{"T":"414 K","x":253,"y":380},{"T":"414 K","x":268,"y":365},{"T":"414 K","x":284,"y":323},{"T":"414 K","x":297,"y":300},{"T":"414 K","x":318,"y":304},{"T":"414 K","x":344,"y":312},{"T":"414 K","x":371,"y":314.5},
      {"T":"417 K","x":117,"y":264},{"T":"417 K","x":201,"y":262},{"T":"417 K","x":228,"y":278},{"T":"417 K","x":253,"y":304},{"T":"417 K","x":268,"y":323},{"T":"417 K","x":282,"y":300},{"T":"417 K","x":295,"y":259},{"T":"417 K","x":309,"y":242},{"T":"417 K","x":335,"y":254},{"T":"417 K","x":380,"y":259},{"T":"417 K","x":500,"y":263},
      {"T":"423 K","x":117,"y":207},{"T":"423 K","x":210,"y":205},{"T":"423 K","x":233,"y":213},{"T":"423 K","x":255,"y":241},{"T":"423 K","x":279.5,"y":269},{"T":"423 K","x":291,"y":251},{"T":"423 K","x":304,"y":202},{"T":"423 K","x":317.5,"y":186},{"T":"423 K","x":344,"y":195},{"T":"423 K","x":402,"y":203.5},{"T":"423 K","x":500,"y":206},
      {"T":"426 K","x":117,"y":151},{"T":"426 K","x":246,"y":152},{"T":"426 K","x":273,"y":162},{"T":"426 K","x":300,"y":196},{"T":"426 K","x":313,"y":175},{"T":"426 K","x":331,"y":143},{"T":"426 K","x":344,"y":136},{"T":"426 K","x":402,"y":148},{"T":"426 K","x":500,"y":151},
      {"T":"433 K","x":117,"y":107},{"T":"433 K","x":246,"y":107},{"T":"433 K","x":279.5,"y":118},{"T":"433 K","x":302,"y":139},{"T":"433 K","x":317.5,"y":118},{"T":"433 K","x":340,"y":95},{"T":"433 K","x":380,"y":101},{"T":"433 K","x":500,"y":106},
      {"T":"439 K","x":117,"y":70},{"T":"439 K","x":246,"y":70.5},{"T":"439 K","x":282,"y":80},{"T":"439 K","x":306,"y":93},{"T":"439 K","x":322,"y":76},{"T":"439 K","x":349,"y":59},{"T":"439 K","x":389,"y":67},{"T":"439 K","x":500,"y":70},
      {"T":"441 K","x":117,"y":34},{"T":"441 K","x":246,"y":35},{"T":"441 K","x":291,"y":44},{"T":"441 K","x":317.5,"y":43},{"T":"441 K","x":340,"y":32.5},{"T":"441 K","x":358,"y":29},{"T":"441 K","x":402,"y":32.5},{"T":"441 K","x":500,"y":34},
      {"T":"445 K","x":117,"y":0},{"T":"445 K","x":246,"y":1},{"T":"445 K","x":291,"y":6},{"T":"445 K","x":313,"y":8},{"T":"445 K","x":335,"y":0},{"T":"445 K","x":353,"y":-5},{"T":"445 K","x":402,"y":-2},{"T":"445 K","x":500,"y":0}
    ],
    "lb": [
      {"T":"110 K","y":2120,"side":"r"},{"T":"120 K","y":2045,"side":"r"},{"T":"130 K","y":1978,"side":"r"},{"T":"150 K","y":1906,"side":"r"},{"T":"170 K","y":1835,"side":"r"},{"T":"180 K","y":1766,"side":"r"},{"T":"190 K","y":1702,"side":"r"},{"T":"200 K","y":1633,"side":"r"},{"T":"210 K","y":1579,"side":"r"},{"T":"220 K","y":1512,"side":"r"},{"T":"230 K","y":1447,"side":"r"},{"T":"240 K","y":1376,"side":"r"},{"T":"250 K","y":1310,"side":"r"},{"T":"260 K","y":1242,"side":"r"},{"T":"270 K","y":1177,"side":"r"},{"T":"280 K","y":1111,"side":"r"},{"T":"290 K","y":1064,"side":"r"},{"T":"300 K","y":1023,"side":"r"},{"T":"310 K","y":966,"side":"r"},{"T":"320 K","y":924,"side":"r"},{"T":"330 K","y":864,"side":"r"},{"T":"340 K","y":803,"side":"r"},{"T":"350 K","y":746,"side":"r"},{"T":"360 K","y":686,"side":"r"},{"T":"380 K","y":624,"side":"r"},{"T":"390 K","y":567,"side":"r"},{"T":"400 K","y":516,"side":"r"},{"T":"403 K","y":460,"side":"r"},{"T":"410 K","y":408,"side":"r"},{"T":"414 K","y":320,"side":"r"},
      {"T":"417 K","y":264,"side":"l"},{"T":"423 K","y":207,"side":"l"},{"T":"426 K","y":151,"side":"l"},{"T":"433 K","y":107,"side":"l"},{"T":"439 K","y":70.5,"side":"l"},{"T":"441 K","y":34,"side":"l"},{"T":"445 K","y":0,"side":"l"}
    ],
    "c": [
      {"T":"270 K","x":2,"y":450},{"T":"270 K","x":9,"y":463},{"T":"270 K","x":15.6,"y":476},{"T":"270 K","x":22,"y":472},{"T":"270 K","x":36,"y":466},{"T":"270 K","x":50,"y":463},{"T":"270 K","x":61,"y":462},{"T":"270 K","x":81,"y":462},{"T":"270 K","x":95,"y":460},{"T":"270 K","x":113,"y":454},{"T":"270 K","x":131,"y":447.5},{"T":"270 K","x":149,"y":445},{"T":"270 K","x":168,"y":443},{"T":"270 K","x":204,"y":444.5},{"T":"270 K","x":249,"y":446.6},{"T":"270 K","x":295,"y":448.6},{"T":"270 K","x":375,"y":450.3},
      {"T":"280 K","x":2,"y":435},{"T":"280 K","x":9,"y":451},{"T":"280 K","x":14.7,"y":459},{"T":"280 K","x":22,"y":454.6},{"T":"280 K","x":36,"y":449},{"T":"280 K","x":50,"y":447},{"T":"280 K","x":63,"y":445.4},{"T":"280 K","x":86,"y":446},{"T":"280 K","x":104,"y":442},{"T":"280 K","x":127,"y":433.6},{"T":"280 K","x":149,"y":430},{"T":"280 K","x":172,"y":428},{"T":"280 K","x":226,"y":430},{"T":"280 K","x":295,"y":433.6},{"T":"280 K","x":375,"y":435},
      {"T":"290 K","x":2,"y":421},{"T":"290 K","x":9,"y":438},{"T":"290 K","x":14,"y":444.5},{"T":"290 K","x":22,"y":438.7},{"T":"290 K","x":36,"y":433.6},{"T":"290 K","x":61,"y":430.7},{"T":"290 K","x":86,"y":432},{"T":"290 K","x":100,"y":430.3},{"T":"290 K","x":127,"y":419.3},{"T":"290 K","x":140,"y":416.8},{"T":"290 K","x":165,"y":414},{"T":"290 K","x":226,"y":416},{"T":"290 K","x":295,"y":419},{"T":"290 K","x":375,"y":420.6},
      {"T":"300 K","x":2,"y":406.7},{"T":"300 K","x":9,"y":422.7},{"T":"300 K","x":13,"y":429.4},{"T":"300 K","x":22,"y":422.7},{"T":"300 K","x":40,"y":416.4},{"T":"300 K","x":63,"y":415.3},{"T":"300 K","x":93,"y":417.2},{"T":"300 K","x":109,"y":414.3},{"T":"300 K","x":136,"y":403.3},{"T":"300 K","x":158,"y":400},{"T":"300 K","x":174,"y":398.3},{"T":"300 K","x":226,"y":400.4},{"T":"300 K","x":295,"y":404.2},{"T":"300 K","x":375,"y":405.4},
      {"T":"310 K","x":2,"y":391.6},{"T":"310 K","x":9,"y":407.5},{"T":"310 K","x":12.4,"y":414.3},{"T":"310 K","x":22,"y":406},{"T":"310 K","x":36,"y":400.8},{"T":"310 K","x":68,"y":400},{"T":"310 K","x":99,"y":402.5},{"T":"310 K","x":113,"y":400},{"T":"310 K","x":136,"y":390.7},{"T":"310 K","x":158,"y":385.7},{"T":"310 K","x":174,"y":383.2},{"T":"310 K","x":226,"y":385.7},{"T":"310 K","x":295,"y":389},{"T":"310 K","x":375,"y":390.6},
      {"T":"320 K","x":2,"y":378},{"T":"320 K","x":8,"y":392},{"T":"320 K","x":12.4,"y":400.4},{"T":"320 K","x":22,"y":390.7},{"T":"320 K","x":45,"y":385.3},{"T":"320 K","x":72,"y":385.8},{"T":"320 K","x":104,"y":389},{"T":"320 K","x":118,"y":387.4},{"T":"320 K","x":127,"y":382},{"T":"320 K","x":143,"y":375},{"T":"320 K","x":160,"y":371},{"T":"320 K","x":171.5,"y":368.5},{"T":"320 K","x":203,"y":370.5},{"T":"320 K","x":252,"y":373.4},{"T":"320 K","x":318,"y":375.7},{"T":"320 K","x":375,"y":376.6},
      {"T":"330 K","x":1,"y":365},{"T":"330 K","x":6,"y":378},{"T":"330 K","x":11,"y":387.4},{"T":"330 K","x":15,"y":375},{"T":"330 K","x":28,"y":372},{"T":"330 K","x":41,"y":371},{"T":"330 K","x":74,"y":373},{"T":"330 K","x":107,"y":376.6},{"T":"330 K","x":117,"y":375},{"T":"330 K","x":133.5,"y":367},{"T":"330 K","x":147,"y":361.3},{"T":"330 K","x":160,"y":358.4},{"T":"330 K","x":175,"y":354.4},{"T":"330 K","x":203,"y":355.5},{"T":"330 K","x":252,"y":359},{"T":"330 K","x":318,"y":361.5},{"T":"330 K","x":375,"y":362.7},
      {"T":"340 K","x":1,"y":351},{"T":"340 K","x":9.7,"y":372.3},{"T":"340 K","x":18,"y":362.4},{"T":"340 K","x":34,"y":355},{"T":"340 K","x":54,"y":355.3},{"T":"340 K","x":87,"y":358},{"T":"340 K","x":115,"y":362},{"T":"340 K","x":127,"y":359},{"T":"340 K","x":147,"y":347.4},{"T":"340 K","x":160,"y":342.8},{"T":"340 K","x":180,"y":337.6},{"T":"340 K","x":203,"y":339.3},{"T":"340 K","x":252,"y":343.4},{"T":"340 K","x":318,"y":345.7},{"T":"340 K","x":375,"y":346.5},
      {"T":"350 K","x":1,"y":335},{"T":"350 K","x":9.7,"y":356.7},{"T":"350 K","x":19.6,"y":344},{"T":"350 K","x":36,"y":338.2},{"T":"350 K","x":71,"y":341},{"T":"350 K","x":100,"y":344},{"T":"350 K","x":124,"y":347.6},{"T":"350 K","x":137,"y":342.8},{"T":"350 K","x":160,"y":328.3},{"T":"350 K","x":186,"y":320.8},{"T":"350 K","x":219,"y":323.7},{"T":"350 K","x":269,"y":328.3},{"T":"350 K","x":375,"y":330.7},
      {"T":"355 K","x":1,"y":321},{"T":"355 K","x":8.7,"y":340.5},{"T":"355 K","x":19.6,"y":326.6},{"T":"355 K","x":38,"y":323.7},{"T":"355 K","x":71,"y":325.7},{"T":"355 K","x":104,"y":329},{"T":"355 K","x":129,"y":334},{"T":"355 K","x":143,"y":330},{"T":"355 K","x":163,"y":314},{"T":"355 K","x":190,"y":305.8},{"T":"355 K","x":219,"y":308.7},{"T":"355 K","x":269,"y":314},{"T":"355 K","x":375,"y":316},
      {"T":"360 K","x":1,"y":304.6},{"T":"360 K","x":8,"y":322.6},{"T":"360 K","x":18,"y":309.8},{"T":"360 K","x":34,"y":308},{"T":"360 K","x":71,"y":310.4},{"T":"360 K","x":107,"y":314.5},{"T":"360 K","x":133.5,"y":319.3},{"T":"360 K","x":147,"y":316},{"T":"360 K","x":170,"y":297.7},{"T":"360 K","x":196,"y":289.6},{"T":"360 K","x":219,"y":292},{"T":"360 K","x":269,"y":297},{"T":"360 K","x":375,"y":300},
      {"T":"365 K","x":1,"y":289.6},{"T":"365 K","x":7.4,"y":303.5},{"T":"365 K","x":18,"y":293.7},{"T":"365 K","x":54,"y":294.2},{"T":"365 K","x":114,"y":300.6},{"T":"365 K","x":140,"y":305.5},{"T":"365 K","x":153,"y":301},{"T":"365 K","x":176.5,"y":282.7},{"T":"365 K","x":201,"y":274},{"T":"365 K","x":236,"y":278},{"T":"365 K","x":285,"y":283.3},{"T":"365 K","x":375,"y":285.2},
      {"T":"370 K","x":1,"y":273.4},{"T":"370 K","x":6.4,"y":283.3},{"T":"370 K","x":14.6,"y":278},{"T":"370 K","x":54,"y":279.8},{"T":"370 K","x":120,"y":286.7},{"T":"370 K","x":147,"y":291},{"T":"370 K","x":160,"y":287.3},{"T":"370 K","x":186,"y":266.5},{"T":"370 K","x":208,"y":258.4},{"T":"370 K","x":236,"y":263},{"T":"370 K","x":285,"y":268.2},{"T":"370 K","x":375,"y":270.2},
      {"T":"375 K","x":1,"y":256.7},{"T":"375 K","x":6.4,"y":260.7},{"T":"375 K","x":19.6,"y":263},{"T":"375 K","x":71,"y":265.3},{"T":"375 K","x":127,"y":273.4},{"T":"375 K","x":153,"y":276.7},{"T":"375 K","x":167,"y":271},{"T":"375 K","x":193,"y":249.2},{"T":"375 K","x":216,"y":243.4},{"T":"375 K","x":252,"y":249.2},{"T":"375 K","x":302,"y":253.6},{"T":"375 K","x":375,"y":255},
      {"T":"380 K","x":1,"y":237.6},{"T":"380 K","x":4.7,"y":234},{"T":"380 K","x":18,"y":244},{"T":"380 K","x":54,"y":245},{"T":"380 K","x":114,"y":250.3},{"T":"380 K","x":143,"y":255},{"T":"380 K","x":162,"y":259},{"T":"380 K","x":173,"y":255},{"T":"380 K","x":193,"y":236.5},{"T":"380 K","x":219,"y":225.5},{"T":"380 K","x":252,"y":230.7},{"T":"380 K","x":302,"y":235.3},{"T":"380 K","x":375,"y":236.7},
      {"T":"385 K","x":1,"y":215},{"T":"385 K","x":5.4,"y":208.7},{"T":"385 K","x":16,"y":218},{"T":"385 K","x":71,"y":222.6},{"T":"385 K","x":133.5,"y":229.5},{"T":"385 K","x":171.5,"y":237.6},{"T":"385 K","x":183,"y":233},{"T":"385 K","x":206,"y":212.2},{"T":"385 K","x":232.6,"y":203.5},{"T":"385 K","x":285.5,"y":212.2},{"T":"385 K","x":375,"y":213.9},
      {"T":"390 K","x":1,"y":196},{"T":"390 K","x":4.7,"y":190.5},{"T":"390 K","x":18,"y":197},{"T":"390 K","x":71,"y":201},{"T":"390 K","x":120,"y":206},{"T":"390 K","x":147,"y":208},{"T":"390 K","x":160,"y":212},{"T":"390 K","x":181,"y":218.2},{"T":"390 K","x":200,"y":211},{"T":"390 K","x":213,"y":199.5},{"T":"390 K","x":226,"y":192},{"T":"390 K","x":242.5,"y":184.8},{"T":"390 K","x":269,"y":188.6},{"T":"390 K","x":302,"y":192.4},{"T":"390 K","x":375,"y":195},
      {"T":"397 K","x":1,"y":175},{"T":"397 K","x":4.7,"y":171.6},{"T":"397 K","x":18,"y":174},{"T":"397 K","x":71,"y":175.7},{"T":"397 K","x":120,"y":178.7},{"T":"397 K","x":153,"y":186.3},{"T":"397 K","x":186,"y":194.3},{"T":"397 K","x":203,"y":196.7},{"T":"397 K","x":216,"y":191},{"T":"397 K","x":232.6,"y":177.7},{"T":"397 K","x":249,"y":169.2},{"T":"397 K","x":262,"y":165},{"T":"397 K","x":285.5,"y":169.2},{"T":"397 K","x":318.5,"y":172},{"T":"397 K","x":375,"y":172},
      {"T":"400 K","x":1,"y":158.3},{"T":"400 K","x":6.4,"y":157},{"T":"400 K","x":18,"y":158.3},{"T":"400 K","x":71,"y":159.3},{"T":"400 K","x":137,"y":163.5},{"T":"400 K","x":173,"y":172},{"T":"400 K","x":200,"y":178.7},{"T":"400 K","x":214.5,"y":179.6},{"T":"400 K","x":226,"y":174},{"T":"400 K","x":242.5,"y":160.7},{"T":"400 K","x":270.6,"y":150.3},{"T":"400 K","x":302,"y":154},{"T":"400 K","x":335,"y":156},{"T":"400 K","x":375,"y":156},
      {"T":"405 K","x":1,"y":141},{"T":"405 K","x":54,"y":140.4},{"T":"405 K","x":114,"y":140.8},{"T":"405 K","x":153,"y":143.7},{"T":"405 K","x":186,"y":147.9},{"T":"405 K","x":213,"y":155},{"T":"405 K","x":232.6,"y":159.8},{"T":"405 K","x":246,"y":157},{"T":"405 K","x":262,"y":143.7},{"T":"405 K","x":287,"y":133.7},{"T":"405 K","x":318.5,"y":136.6},{"T":"405 K","x":335,"y":137.5},{"T":"405 K","x":375,"y":137},
      {"T":"408 K","x":116,"y":127.8},{"T":"408 K","x":153,"y":129.5},{"T":"408 K","x":193,"y":135.2},{"T":"408 K","x":219,"y":142.7},{"T":"408 K","x":239,"y":146.7},{"T":"408 K","x":256,"y":142.7},{"T":"408 K","x":272,"y":132.3},{"T":"408 K","x":295,"y":122},{"T":"408 K","x":335,"y":124.3},{"T":"408 K","x":371,"y":124.3},{"T":"408 K","x":418,"y":126.7},{"T":"408 K","x":500,"y":128},
      {"T":"411 K","x":116,"y":113},{"T":"411 K","x":160,"y":114},{"T":"411 K","x":193,"y":118},{"T":"411 K","x":226,"y":125.7},{"T":"411 K","x":251,"y":131.4},{"T":"411 K","x":266,"y":126.7},{"T":"411 K","x":282,"y":115.3},{"T":"411 K","x":304,"y":107.3},{"T":"411 K","x":335,"y":108.7},{"T":"411 K","x":361,"y":108.5},{"T":"411 K","x":418,"y":112},{"T":"411 K","x":500,"y":113},
      {"T":"414 K","x":116,"y":99.4},{"T":"414 K","x":167,"y":99.7},{"T":"414 K","x":200,"y":104},{"T":"414 K","x":233,"y":111.5},{"T":"414 K","x":258,"y":117.7},{"T":"414 K","x":272,"y":112.5},{"T":"414 K","x":289,"y":100.2},{"T":"414 K","x":307,"y":94},{"T":"414 K","x":332,"y":95},{"T":"414 K","x":355,"y":94.7},{"T":"414 K","x":401,"y":98.3},{"T":"414 K","x":500,"y":99.4},
      {"T":"417 K","x":116,"y":86},{"T":"417 K","x":193,"y":87},{"T":"417 K","x":219,"y":89.3},{"T":"417 K","x":246,"y":96.4},{"T":"417 K","x":269,"y":104.4},{"T":"417 K","x":282,"y":99.2},{"T":"417 K","x":295,"y":88},{"T":"417 K","x":309,"y":81.2},{"T":"417 K","x":351.5,"y":80.5},{"T":"417 K","x":401,"y":84.6},{"T":"417 K","x":500,"y":86},
      {"T":"420 K","x":116,"y":72.3},{"T":"420 K","x":203,"y":72.5},{"T":"420 K","x":226,"y":74.6},{"T":"420 K","x":252,"y":82},{"T":"420 K","x":277,"y":89.9},{"T":"420 K","x":289,"y":85},{"T":"420 K","x":302,"y":72.7},{"T":"420 K","x":318,"y":66.6},{"T":"420 K","x":348,"y":66.3},{"T":"420 K","x":395,"y":71},{"T":"420 K","x":500,"y":72.5},
      {"T":"425 K","x":118.6,"y":59.1},{"T":"425 K","x":213,"y":59.4},{"T":"425 K","x":240,"y":61.1},{"T":"425 K","x":267,"y":67.5},{"T":"425 K","x":288,"y":76.3},{"T":"425 K","x":299,"y":70.7},{"T":"425 K","x":313,"y":58.7},{"T":"425 K","x":326,"y":54.7},{"T":"425 K","x":347,"y":53.1},{"T":"425 K","x":367,"y":54.7},{"T":"425 K","x":394,"y":57.5},{"T":"425 K","x":500,"y":58.9},
      {"T":"430 K","x":118.6,"y":46},{"T":"430 K","x":226.5,"y":46.1},{"T":"430 K","x":254,"y":48.3},{"T":"430 K","x":276,"y":55.5},{"T":"430 K","x":291,"y":61.5},{"T":"430 K","x":304,"y":57.1},{"T":"430 K","x":322,"y":45.1},{"T":"430 K","x":344.5,"y":40.2},{"T":"430 K","x":367,"y":41.9},{"T":"430 K","x":394,"y":44.3},{"T":"430 K","x":500,"y":45.8},
      {"T":"435 K","x":118.6,"y":34.8},{"T":"435 K","x":249,"y":35.1},{"T":"435 K","x":272,"y":38.3},{"T":"435 K","x":297,"y":47.5},{"T":"435 K","x":308,"y":45.1},{"T":"435 K","x":326,"y":33.2},{"T":"435 K","x":344.5,"y":29.2},{"T":"435 K","x":367,"y":30.8},{"T":"435 K","x":394,"y":33.3},{"T":"435 K","x":500,"y":34.5},
      {"T":"440 K","x":118.6,"y":22.6},{"T":"440 K","x":254,"y":23.2},{"T":"440 K","x":276,"y":26},{"T":"440 K","x":300.5,"y":33.6},{"T":"440 K","x":313,"y":30.8},{"T":"440 K","x":331,"y":21.2},{"T":"440 K","x":345,"y":18},{"T":"440 K","x":367,"y":19.6},{"T":"440 K","x":403.5,"y":21.8},{"T":"440 K","x":500,"y":22.4},
      {"T":"445 K","x":118.6,"y":10.2},{"T":"445 K","x":254,"y":10.6},{"T":"445 K","x":279,"y":13.2},{"T":"445 K","x":304,"y":18.8},{"T":"445 K","x":315,"y":16.8},{"T":"445 K","x":335,"y":8.4},{"T":"445 K","x":349,"y":6.8},{"T":"445 K","x":376,"y":8.5},{"T":"445 K","x":412.6,"y":9.6},{"T":"445 K","x":500,"y":10},
      {"T":"449 K","x":118.6,"y":0},{"T":"449 K","x":254,"y":0.6},{"T":"449 K","x":281,"y":3.2},{"T":"449 K","x":304,"y":7.2},{"T":"449 K","x":313,"y":6.4},{"T":"449 K","x":335,"y":-2},{"T":"449 K","x":351,"y":-3.2},{"T":"449 K","x":385,"y":-1.6},{"T":"449 K","x":431,"y":-0.6},{"T":"449 K","x":500,"y":-0.4}
    ],
    "lc": [
      {"T":"270 K","y":451,"side":"r"},{"T":"280 K","y":435.7,"side":"r"},{"T":"290 K","y":421.2,"side":"r"},{"T":"300 K","y":406.3,"side":"r"},{"T":"310 K","y":391.1,"side":"r"},{"T":"320 K","y":377.5,"side":"r"},{"T":"330 K","y":363.6,"side":"r"},{"T":"340 K","y":347.4,"side":"r"},{"T":"350 K","y":331.5,"side":"r"},{"T":"355 K","y":316.8,"side":"r"},{"T":"360 K","y":300.8,"side":"r"},{"T":"365 K","y":286.2,"side":"r"},{"T":"370 K","y":270.9,"side":"r"},{"T":"375 K","y":255.8,"side":"r"},{"T":"380 K","y":237.4,"side":"r"},{"T":"385 K","y":214.7,"side":"r"},{"T":"390 K","y":195.7,"side":"r"},{"T":"397 K","y":174.1,"side":"r"},{"T":"400 K","y":158.3,"side":"r"},{"T":"405 K","y":140.4,"side":"r"},
      {"T":"408 K","y":128.7,"side":"l"},{"T":"411 K","y":113.4,"side":"l"},{"T":"414 K","y":100,"side":"l"},{"T":"417 K","y":86.4,"side":"l"},{"T":"420 K","y":72.5,"side":"l"},{"T":"425 K","y":59.3,"side":"l"},{"T":"430 K","y":46.1,"side":"l"},{"T":"435 K","y":34.8,"side":"l"},{"T":"440 K","y":22.8,"side":"l"},{"T":"445 K","y":10.2,"side":"l"},{"T":"449 K","y":0,"side":"l"}
    ]
  },
  "hconcat": [
    {
      "width": 680,
      "height": 2988,
      "layer": [
        {
          "data": {"name": "a"},
          "mark": {"type": "line", "interpolate": "monotone", "strokeWidth": 7, "strokeJoin": "round"},
          "encoding": {
            "x": {"field": "x", "type": "quantitative", "title": null, "scale": {"domain": [0, 400], "nice": false, "zero": false},
                  "axis": {"values": [0,50,100,150,200,250,300,350,400], "format": "d", "labelExpr": "datum.value % 100 === 0 ? datum.label : ''"}},
            "y": {"field": "y", "type": "quantitative", "title": null, "scale": {"domain": [-30, 1500], "nice": false, "zero": false},
                  "axis": {"values": [0,50,100,150,200,250,300,350,400,450,500,550,600,650,700,750,800,850,900,950,1000,1050,1100,1150,1200,1250,1300,1350,1400,1450], "format": "d", "labelExpr": "datum.value % 100 === 0 ? datum.label : ''"}},
            "color": {"field": "T", "type": "nominal", "legend": null,
                      "scale": {"domain": ["110 K","140 K","160 K","180 K","200 K","210 K","220 K","230 K","235 K","240 K","245 K","250 K","255 K","258 K","261 K","264 K","267 K","270 K","273 K","276 K","279 K","282 K","285 K","288 K","291 K","294 K","297 K","300 K","303 K","306 K","310 K","320 K","330 K","340 K"],
                                "range": ["#FFFF80","#808080","#C0C0C0","#008080","#FF0080","#8000FF","#FF8000","#000080","#008080","#008000","#800000","#800080","#000080","#808000","#FFFF00","#FF00FF","#00FFFF","#0000FF","#00FF00","#FF0000","#000000","#404040","#FF80FF","#80FFFF","#FFFF80","#808080","#C0C0C0","#800000","#FF0080","#8000FF","#FF8000","#000080","#008080","#008000"]}}
          }
        },
        {"data": {"name": "la"}, "transform": [{"filter": "datum.side === 'r'"}],
         "mark": {"type": "text", "align": "right", "baseline": "middle", "fontSize": 44, "color": "black"},
         "encoding": {"x": {"datum": 374.5, "title": null}, "y": {"field": "y", "type": "quantitative", "title": null}, "text": {"field": "T"}}},
        {"data": {"name": "la"}, "transform": [{"filter": "datum.side === 'r'"}],
         "mark": {"type": "rule", "strokeWidth": 8},
         "encoding": {"x": {"datum": 383.5, "title": null}, "x2": {"datum": 400}, "y": {"field": "y", "type": "quantitative", "title": null}, "color": {"field": "T", "type": "nominal", "legend": null}}},
        {"data": {"name": "la"}, "transform": [{"filter": "datum.side === 'l'"}],
         "mark": {"type": "text", "align": "left", "baseline": "middle", "fontSize": 44, "color": "black"},
         "encoding": {"x": {"datum": 22.5, "title": null}, "y": {"field": "y", "type": "quantitative", "title": null}, "text": {"field": "T"}}},
        {"data": {"name": "la"}, "transform": [{"filter": "datum.side === 'l'"}],
         "mark": {"type": "rule", "strokeWidth": 8},
         "encoding": {"x": {"datum": 0, "title": null}, "x2": {"datum": 13}, "y": {"field": "y", "type": "quantitative", "title": null}, "color": {"field": "T", "type": "nominal", "legend": null}}},
        {"data": {"name": "one"}, "mark": {"type": "rule", "strokeWidth": 0, "opacity": 0},
         "encoding": {"x": {"datum": -155.2, "title": null}, "x2": {"datum": -154}, "y": {"datum": 1577.3, "title": null}, "y2": {"datum": 1576}}},
        {"data": {"name": "one"}, "mark": {"type": "text", "text": "a)", "align": "left", "baseline": "alphabetic", "fontSize": 125, "color": "black"},
         "encoding": {"x": {"datum": -90.9, "title": null}, "y": {"datum": 1494.4, "title": null}}},
        {"data": {"name": "one"}, "mark": {"type": "text", "text": "Ni", "align": "left", "baseline": "alphabetic", "fontSize": 68, "color": "black"},
         "encoding": {"x": {"datum": 83.8, "title": null}, "y": {"datum": 1529.2, "title": null}}},
        {"data": {"name": "one"}, "mark": {"type": "text", "text": "50", "align": "left", "baseline": "alphabetic", "fontSize": 40, "color": "black"},
         "encoding": {"x": {"datum": 121.7, "title": null}, "y": {"datum": 1515.9, "title": null}}},
        {"data": {"name": "one"}, "mark": {"type": "text", "text": "Mn", "align": "left", "baseline": "alphabetic", "fontSize": 68, "color": "black"},
         "encoding": {"x": {"datum": 147.9, "title": null}, "y": {"datum": 1529.2, "title": null}}},
        {"data": {"name": "one"}, "mark": {"type": "text", "text": "35.5", "align": "left", "baseline": "alphabetic", "fontSize": 40, "color": "black"},
         "encoding": {"x": {"datum": 203.7, "title": null}, "y": {"datum": 1515.9, "title": null}}},
        {"data": {"name": "one"}, "mark": {"type": "text", "text": "In", "align": "left", "baseline": "alphabetic", "fontSize": 68, "color": "black"},
         "encoding": {"x": {"datum": 249.6, "title": null}, "y": {"datum": 1529.2, "title": null}}},
        {"data": {"name": "one"}, "mark": {"type": "text", "text": "14.5", "align": "left", "baseline": "alphabetic", "fontSize": 40, "color": "black"},
         "encoding": {"x": {"datum": 283, "title": null}, "y": {"datum": 1515.9, "title": null}}},
        {"data": {"name": "one"}, "mark": {"type": "text", "text": "dP/dB", "angle": 270, "align": "left", "baseline": "alphabetic", "font": "Liberation Serif", "fontStyle": "italic", "fontSize": 65, "color": "black"},
         "encoding": {"x": {"datum": -87.9, "title": null}, "y": {"datum": 599.8, "title": null}}},
        {"data": {"name": "one"}, "mark": {"type": "text", "text": "(arb. units)", "angle": 270, "align": "left", "baseline": "alphabetic", "font": "Liberation Serif", "fontSize": 65, "dx": 179, "color": "black"},
         "encoding": {"x": {"datum": -87.9, "title": null}, "y": {"datum": 599.8, "title": null}}},
        {"data": {"name": "one"}, "mark": {"type": "text", "text": "B", "align": "right", "baseline": "alphabetic", "font": "Liberation Serif", "fontStyle": "italic", "fontSize": 65, "color": "black"},
         "encoding": {"x": {"datum": 166.4, "title": null}, "y": {"datum": -119.2, "title": null}}},
        {"data": {"name": "one"}, "mark": {"type": "text", "text": "(mT)", "align": "left", "baseline": "alphabetic", "font": "Liberation Serif", "fontSize": 65, "dx": 20, "color": "black"},
         "encoding": {"x": {"datum": 166.4, "title": null}, "y": {"datum": -119.2, "title": null}}}
      ]
    },
    {
      "width": 680,
      "height": 2988,
      "layer": [
        {
          "data": {"name": "b"},
          "mark": {"type": "line", "interpolate": "monotone", "strokeWidth": 7, "strokeJoin": "round"},
          "encoding": {
            "x": {"field": "x", "type": "quantitative", "title": null, "scale": {"domain": [0, 500], "nice": false, "zero": false},
                  "axis": {"values": [0,50,100,150,200,250,300,350,400,450,500], "format": "d", "labelExpr": "datum.value % 100 === 0 ? datum.label : ''"}},
            "y": {"field": "y", "type": "quantitative", "title": null, "scale": {"domain": [-30, 2300], "nice": false, "zero": false},
                  "axis": {"values": [0,100,200,300,400,500,600,700,800,900,1000,1100,1200,1300,1400,1500,1600,1700,1800,1900,2000,2100,2200], "format": "d", "labelExpr": "datum.value % 200 === 0 ? datum.label : ''"}},
            "detail": {"field": "g", "type": "nominal"},
            "color": {"field": "T", "type": "nominal", "legend": null,
                      "scale": {"domain": ["110 K","120 K","130 K","150 K","170 K","180 K","190 K","200 K","210 K","220 K","230 K","240 K","250 K","260 K","270 K","280 K","290 K","300 K","310 K","320 K","330 K","340 K","350 K","360 K","380 K","390 K","400 K","403 K","410 K","414 K","417 K","423 K","426 K","433 K","439 K","441 K","445 K"],
                                "range": ["#008080","#008000","#800000","#800080","#000080","#808000","#FFFF00","#FF00FF","#00FFFF","#0000FF","#00FF00","#FF0000","#000000","#808080","#FF80FF","#80FFFF","#FFFF80","#808080","#00FF00","#C0C0C0","#FF0080","#8000FF","#FF8000","#000080","#008080","#008000","#800000","#800080","#000080","#808000","#FFFF00","#FF00FF","#00FFFF","#0000FF","#00FF00","#FF0000","#000000"]}}
          }
        },
        {"data": {"name": "lb"}, "transform": [{"filter": "datum.side === 'r'"}],
         "mark": {"type": "text", "align": "right", "baseline": "middle", "fontSize": 44, "color": "black"},
         "encoding": {"x": {"datum": 465, "title": null}, "y": {"field": "y", "type": "quantitative", "title": null}, "text": {"field": "T"}}},
        {"data": {"name": "lb"}, "transform": [{"filter": "datum.side === 'r'"}],
         "mark": {"type": "rule", "strokeWidth": 8},
         "encoding": {"x": {"datum": 477.6, "title": null}, "x2": {"datum": 500}, "y": {"field": "y", "type": "quantitative", "title": null}, "color": {"field": "T", "type": "nominal", "legend": null}}},
        {"data": {"name": "lb"}, "transform": [{"filter": "datum.side === 'l'"}],
         "mark": {"type": "text", "align": "left", "baseline": "middle", "fontSize": 44, "color": "black"},
         "encoding": {"x": {"datum": 24.7, "title": null}, "y": {"field": "y", "type": "quantitative", "title": null}, "text": {"field": "T"}}},
        {"data": {"name": "lb"}, "transform": [{"filter": "datum.side === 'l'"}],
         "mark": {"type": "rule", "strokeWidth": 8},
         "encoding": {"x": {"datum": 0, "title": null}, "x2": {"datum": 13.5}, "y": {"field": "y", "type": "quantitative", "title": null}, "color": {"field": "T", "type": "nominal", "legend": null}}},
        {"data": {"name": "one"}, "mark": {"type": "rule", "color": "#FF0000", "strokeWidth": 14, "strokeCap": "round"},
         "encoding": {"x": {"datum": 12.8, "title": null}, "x2": {"datum": 80.2}, "y": {"datum": 914.5, "title": null}}},
        {"data": {"name": "one"}, "mark": {"type": "rule", "color": "#FF0000", "strokeWidth": 14, "strokeCap": "round"},
         "encoding": {"x": {"datum": 12.8, "title": null}, "x2": {"datum": 80.2}, "y": {"datum": 587.5, "title": null}}},
        {"data": {"name": "one"}, "mark": {"type": "rule", "color": "#FF0000", "strokeWidth": 14, "strokeCap": "square"},
         "encoding": {"x": {"datum": 80.2, "title": null}, "y": {"datum": 914.5, "title": null}, "y2": {"datum": 587.5}}},
        {"data": {"name": "one"}, "mark": {"type": "rule", "color": "#FF0000", "strokeWidth": 6},
         "encoding": {"x": {"datum": 207.8, "title": null}, "x2": {"datum": 120}, "y": {"datum": 773.2, "title": null}, "y2": {"datum": 749.5}}},
        {"data": {"name": "one"}, "mark": {"type": "point", "shape": "M -1 0 L 1 -0.65 L 1 0.65 Z", "size": 2025, "angle": 346, "filled": true, "color": "#FF0000", "opacity": 1},
         "encoding": {"x": {"datum": 111, "title": null}, "y": {"datum": 746.5, "title": null}}},
        {"data": {"name": "one"}, "mark": {"type": "text", "text": "LFMA", "align": "left", "baseline": "alphabetic", "fontSize": 63, "color": "#FF0000"},
         "encoding": {"x": {"datum": 221, "title": null}, "y": {"datum": 772.6, "title": null}}},
        {"data": {"name": "one"}, "mark": {"type": "text", "text": "b)", "align": "left", "baseline": "alphabetic", "fontSize": 125, "color": "black"},
         "encoding": {"x": {"datum": -108.7, "title": null}, "y": {"datum": 2295.6, "title": null}}},
        {"data": {"name": "one"}, "mark": {"type": "text", "text": "Ni", "align": "left", "baseline": "alphabetic", "fontSize": 68, "color": "black"},
         "encoding": {"x": {"datum": 70.5, "title": null}, "y": {"datum": 2346.3, "title": null}}},
        {"data": {"name": "one"}, "mark": {"type": "text", "text": "47", "align": "left", "baseline": "alphabetic", "fontSize": 40, "color": "black"},
         "encoding": {"x": {"datum": 117.6, "title": null}, "y": {"datum": 2326, "title": null}}},
        {"data": {"name": "one"}, "mark": {"type": "text", "text": "Co", "align": "left", "baseline": "alphabetic", "fontSize": 68, "color": "black"},
         "encoding": {"x": {"datum": 150.3, "title": null}, "y": {"datum": 2346.3, "title": null}}},
        {"data": {"name": "one"}, "mark": {"type": "text", "text": "3", "align": "left", "baseline": "alphabetic", "fontSize": 40, "color": "black"},
         "encoding": {"x": {"datum": 214.1, "title": null}, "y": {"datum": 2326, "title": null}}},
        {"data": {"name": "one"}, "mark": {"type": "text", "text": "Mn", "align": "left", "baseline": "alphabetic", "fontSize": 68, "color": "black"},
         "encoding": {"x": {"datum": 230.4, "title": null}, "y": {"datum": 2346.3, "title": null}}},
        {"data": {"name": "one"}, "mark": {"type": "text", "text": "35.5", "align": "left", "baseline": "alphabetic", "fontSize": 40, "color": "black"},
         "encoding": {"x": {"datum": 299.8, "title": null}, "y": {"datum": 2326, "title": null}}},
        {"data": {"name": "one"}, "mark": {"type": "text", "text": "In", "align": "left", "baseline": "alphabetic", "fontSize": 68, "color": "black"},
         "encoding": {"x": {"datum": 356.9, "title": null}, "y": {"datum": 2346.3, "title": null}}},
        {"data": {"name": "one"}, "mark": {"type": "text", "text": "14.5", "align": "left", "baseline": "alphabetic", "fontSize": 40, "color": "black"},
         "encoding": {"x": {"datum": 398.5, "title": null}, "y": {"datum": 2326, "title": null}}},
        {"data": {"name": "one"}, "mark": {"type": "text", "text": "dP/dB", "angle": 270, "align": "left", "baseline": "alphabetic", "font": "Liberation Serif", "fontStyle": "italic", "fontSize": 65, "color": "black"},
         "encoding": {"x": {"datum": -113, "title": null}, "y": {"datum": 929.8, "title": null}}},
        {"data": {"name": "one"}, "mark": {"type": "text", "text": "(arb. units)", "angle": 270, "align": "left", "baseline": "alphabetic", "font": "Liberation Serif", "fontSize": 65, "dx": 179, "color": "black"},
         "encoding": {"x": {"datum": -113, "title": null}, "y": {"datum": 929.8, "title": null}}},
        {"data": {"name": "one"}, "mark": {"type": "text", "text": "B", "align": "right", "baseline": "alphabetic", "font": "Liberation Serif", "fontStyle": "italic", "fontSize": 65, "color": "black"},
         "encoding": {"x": {"datum": 206.7, "title": null}, "y": {"datum": -166.1, "title": null}}},
        {"data": {"name": "one"}, "mark": {"type": "text", "text": "(mT)", "align": "left", "baseline": "alphabetic", "font": "Liberation Serif", "fontSize": 65, "dx": 20, "color": "black"},
         "encoding": {"x": {"datum": 206.7, "title": null}, "y": {"datum": -166.1, "title": null}}}
      ]
    },
    {
      "width": 680,
      "height": 2988,
      "layer": [
        {
          "data": {"name": "c"},
          "mark": {"type": "line", "interpolate": "monotone", "strokeWidth": 7, "strokeJoin": "round"},
          "encoding": {
            "x": {"field": "x", "type": "quantitative", "title": null, "scale": {"domain": [0, 500], "nice": false, "zero": false},
                  "axis": {"values": [0,50,100,150,200,250,300,350,400,450,500], "format": "d", "labelExpr": "datum.value % 100 === 0 ? datum.label : ''"}},
            "y": {"field": "y", "type": "quantitative", "title": null, "scale": {"domain": [-10, 480], "nice": false, "zero": false},
                  "axis": {"values": [0,25,50,75,100,125,150,175,200,225,250,275,300,325,350,375,400,425,450,475], "format": "d", "labelExpr": "datum.value % 50 === 0 ? datum.label : ''"}},
            "color": {"field": "T", "type": "nominal", "legend": null,
                      "scale": {"domain": ["270 K","280 K","290 K","300 K","310 K","320 K","330 K","340 K","350 K","355 K","360 K","365 K","370 K","375 K","380 K","385 K","390 K","397 K","400 K","405 K","408 K","411 K","414 K","417 K","420 K","425 K","430 K","435 K","440 K","445 K","449 K"],
                                "range": ["#800000","#800080","#000080","#808000","#FFFF00","#FF00FF","#00FFFF","#0000FF","#00FF00","#FF0000","#000000","#404040","#FF80FF","#80FFFF","#FFFF00","#808080","#000080","#FF0080","#8000FF","#FF8000","#000080","#008080","#008000","#800000","#800080","#000080","#808000","#FFFF00","#FF00FF","#00FFFF","#0000FF"]}}
          }
        },
        {"data": {"name": "lc"}, "transform": [{"filter": "datum.side === 'r'"}],
         "mark": {"type": "text", "align": "right", "baseline": "middle", "fontSize": 44, "color": "black"},
         "encoding": {"x": {"datum": 469.3, "title": null}, "y": {"field": "y", "type": "quantitative", "title": null}, "text": {"field": "T"}}},
        {"data": {"name": "lc"}, "transform": [{"filter": "datum.side === 'r'"}],
         "mark": {"type": "rule", "strokeWidth": 8},
         "encoding": {"x": {"datum": 480.6, "title": null}, "x2": {"datum": 500}, "y": {"field": "y", "type": "quantitative", "title": null}, "color": {"field": "T", "type": "nominal", "legend": null}}},
        {"data": {"name": "lc"}, "transform": [{"filter": "datum.side === 'l'"}],
         "mark": {"type": "text", "align": "left", "baseline": "middle", "fontSize": 44, "color": "black"},
         "encoding": {"x": {"datum": 24.6, "title": null}, "y": {"field": "y", "type": "quantitative", "title": null}, "text": {"field": "T"}}},
        {"data": {"name": "lc"}, "transform": [{"filter": "datum.side === 'l'"}],
         "mark": {"type": "rule", "strokeWidth": 8},
         "encoding": {"x": {"datum": 0, "title": null}, "x2": {"datum": 13.3}, "y": {"field": "y", "type": "quantitative", "title": null}, "color": {"field": "T", "type": "nominal", "legend": null}}},
        {"data": {"name": "one"}, "mark": {"type": "text", "text": "c)", "align": "left", "baseline": "alphabetic", "fontSize": 125, "color": "black"},
         "encoding": {"x": {"datum": -96.8, "title": null}, "y": {"datum": 479.4, "title": null}}},
        {"data": {"name": "one"}, "mark": {"type": "text", "text": "Ni", "align": "left", "baseline": "alphabetic", "fontSize": 68, "color": "black"},
         "encoding": {"x": {"datum": 76.1, "title": null}, "y": {"datum": 489.7, "title": null}}},
        {"data": {"name": "one"}, "mark": {"type": "text", "text": "45", "align": "left", "baseline": "alphabetic", "fontSize": 40, "color": "black"},
         "encoding": {"x": {"datum": 123.3, "title": null}, "y": {"datum": 485.4, "title": null}}},
        {"data": {"name": "one"}, "mark": {"type": "text", "text": "Co", "align": "left", "baseline": "alphabetic", "fontSize": 68, "color": "black"},
         "encoding": {"x": {"datum": 156.1, "title": null}, "y": {"datum": 489.7, "title": null}}},
        {"data": {"name": "one"}, "mark": {"type": "text", "text": "5", "align": "left", "baseline": "alphabetic", "fontSize": 40, "color": "black"},
         "encoding": {"x": {"datum": 220.1, "title": null}, "y": {"datum": 485.4, "title": null}}},
        {"data": {"name": "one"}, "mark": {"type": "text", "text": "Mn", "align": "left", "baseline": "alphabetic", "fontSize": 68, "color": "black"},
         "encoding": {"x": {"datum": 236.4, "title": null}, "y": {"datum": 489.7, "title": null}}},
        {"data": {"name": "one"}, "mark": {"type": "text", "text": "35.5", "align": "left", "baseline": "alphabetic", "fontSize": 40, "color": "black"},
         "encoding": {"x": {"datum": 306, "title": null}, "y": {"datum": 485.4, "title": null}}},
        {"data": {"name": "one"}, "mark": {"type": "text", "text": "In", "align": "left", "baseline": "alphabetic", "fontSize": 68, "color": "black"},
         "encoding": {"x": {"datum": 363.3, "title": null}, "y": {"datum": 489.7, "title": null}}},
        {"data": {"name": "one"}, "mark": {"type": "text", "text": "14.5", "align": "left", "baseline": "alphabetic", "fontSize": 40, "color": "black"},
         "encoding": {"x": {"datum": 405.1, "title": null}, "y": {"datum": 485.4, "title": null}}},
        {"data": {"name": "one"}, "mark": {"type": "text", "text": "dP/dB", "angle": 270, "align": "left", "baseline": "alphabetic", "font": "Liberation Serif", "fontStyle": "italic", "fontSize": 65, "color": "black"},
         "encoding": {"x": {"datum": -104.6, "title": null}, "y": {"datum": 191.9, "title": null}}},
        {"data": {"name": "one"}, "mark": {"type": "text", "text": "(arb. units)", "angle": 270, "align": "left", "baseline": "alphabetic", "font": "Liberation Serif", "fontSize": 65, "dx": 179, "color": "black"},
         "encoding": {"x": {"datum": -104.6, "title": null}, "y": {"datum": 191.9, "title": null}}},
        {"data": {"name": "one"}, "mark": {"type": "text", "text": "B", "align": "right", "baseline": "alphabetic", "font": "Liberation Serif", "fontStyle": "italic", "fontSize": 65, "color": "black"},
         "encoding": {"x": {"datum": 213.9, "title": null}, "y": {"datum": -38.5, "title": null}}},
        {"data": {"name": "one"}, "mark": {"type": "text", "text": "(mT)", "align": "left", "baseline": "alphabetic", "font": "Liberation Serif", "fontSize": 65, "dx": 20, "color": "black"},
         "encoding": {"x": {"datum": 213.9, "title": null}, "y": {"datum": -38.5, "title": null}}}
      ]
    }
  ]
}
